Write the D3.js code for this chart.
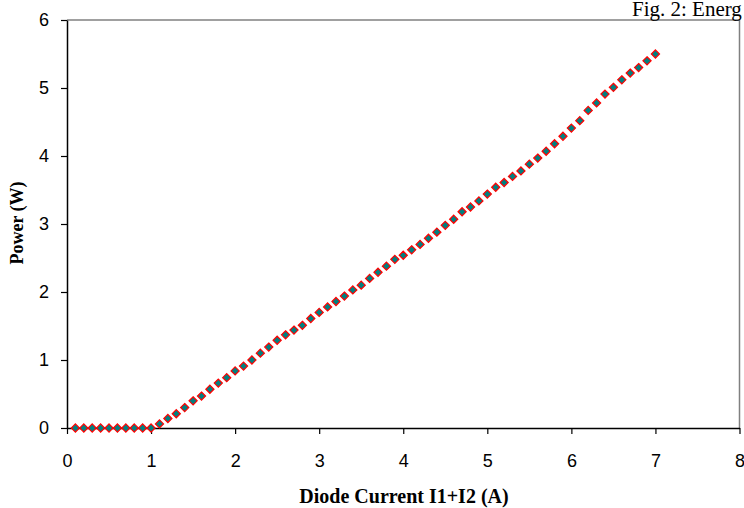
<!DOCTYPE html>
<html>
<head>
<meta charset="utf-8">
<script src="https://cdn.jsdelivr.net/npm/d3@7"></script>
<style>
  body { margin: 0; background: #fff; }
  svg { display: block; }
  .tick text { font-family: "Liberation Sans", Arial, sans-serif; font-size: 18px; fill: #000; }
</style>
</head>
<body>
<svg width="744" height="508"></svg>
<script>
// diode current (A), step 0.1
var current = [0.1,0.2,0.3,0.4,0.5,0.6,0.7,0.8,0.9,1.0,
               1.1,1.2,1.3,1.4,1.5,1.6,1.7,1.8,1.9,2.0,
               2.1,2.2,2.3,2.4,2.5,2.6,2.7,2.8,2.9,3.0,
               3.1,3.2,3.3,3.4,3.5,3.6,3.7,3.8,3.9,4.0,
               4.1,4.2,4.3,4.4,4.5,4.6,4.7,4.8,4.9,5.0,
               5.1,5.2,5.3,5.4,5.5,5.6,5.7,5.8,5.9,6.0,
               6.1,6.2,6.3,6.4,6.5,6.6,6.7,6.8,6.9,7.0];

// output power (W)
var power = [0,0,0,0,0,0,0,0,0,0,
             0.06,0.14,0.21,0.30,0.40,0.47,0.57,0.66,0.74,0.84,
             0.91,1.00,1.10,1.19,1.29,1.37,1.44,1.51,1.61,1.70,
             1.78,1.86,1.94,2.03,2.10,2.20,2.29,2.38,2.48,2.54,
             2.62,2.70,2.79,2.88,2.98,3.07,3.18,3.25,3.34,3.44,
             3.54,3.61,3.70,3.78,3.88,3.97,4.07,4.18,4.29,4.41,
             4.52,4.67,4.78,4.91,5.01,5.12,5.22,5.30,5.40,5.50];

var xTicks = [0,1,2,3,4,5,6,7,8];
var yTicks = [0,1,2,3,4,5,6];

var svg = d3.select("svg");

var plotLeft = 67, plotRight = 739.5, plotTop = 20, plotBottom = 428;

var x = d3.scaleLinear().domain([0, 8]).range([plotLeft, plotRight]);
var y = d3.scaleLinear().domain([0, 6]).range([plotBottom, plotTop]);

// plot area frame, top and right edges in grey
svg.append("line")
    .attr("x1", plotLeft).attr("x2", plotRight)
    .attr("y1", plotTop).attr("y2", plotTop)
    .style("stroke", "#808080").style("stroke-width", 1.5);
svg.append("line")
    .attr("x1", plotRight).attr("x2", plotRight)
    .attr("y1", plotTop).attr("y2", plotBottom)
    .style("stroke", "#808080").style("stroke-width", 1.5);

var xAxis = svg.append("g")
    .attr("transform", "translate(0," + plotBottom + ")")
    .call(d3.axisBottom(x).tickValues(xTicks).tickFormat(d3.format("d"))
        .tickSizeInner(6).tickSizeOuter(0).tickPadding(20));

var yAxis = svg.append("g")
    .attr("transform", "translate(" + plotLeft + ",0)")
    .call(d3.axisLeft(y).tickValues(yTicks).tickFormat(d3.format("d"))
        .tickSizeInner(6).tickSizeOuter(0).tickPadding(12));

svg.selectAll(".domain").style("stroke", "#000").style("stroke-width", 1.5);
svg.selectAll(".tick line").style("stroke", "#000").style("stroke-width", 1.2);
xAxis.selectAll(".tick line").attr("y2", 6);

// markers
var pts = current.map(function(c, i) { return {x: c, y: power[i]}; });
var diamond = d3.symbol().type(d3.symbolDiamond2).size(42);

svg.append("g")
    .selectAll("path")
    .data(pts)
    .enter().append("path")
    .attr("d", diamond)
    .attr("transform", function(d) { return "translate(" + x(d.x) + "," + y(d.y) + ")"; })
    .style("fill", "#008080")
    .style("stroke", "#ff0000")
    .style("stroke-width", 1.2);

// titles
svg.append("text")
    .attr("x", 404).attr("y", 503)
    .attr("text-anchor", "middle")
    .style("font-family", "'Liberation Serif', 'Times New Roman', serif")
    .style("font-weight", "bold")
    .style("font-size", "20px")
    .text("Diode Current I1+I2 (A)");

svg.append("text")
    .attr("transform", "translate(23,223) rotate(-90)")
    .attr("text-anchor", "middle")
    .style("font-family", "'Liberation Serif', 'Times New Roman', serif")
    .style("font-weight", "bold")
    .style("font-size", "18px")
    .text("Power (W)");

svg.append("text")
    .attr("x", 632).attr("y", 16)
    .style("font-family", "'Liberation Serif', 'Times New Roman', serif")
    .style("font-size", "21px")
    .text("Fig. 2: Energ");
</script>
</body>
</html>
